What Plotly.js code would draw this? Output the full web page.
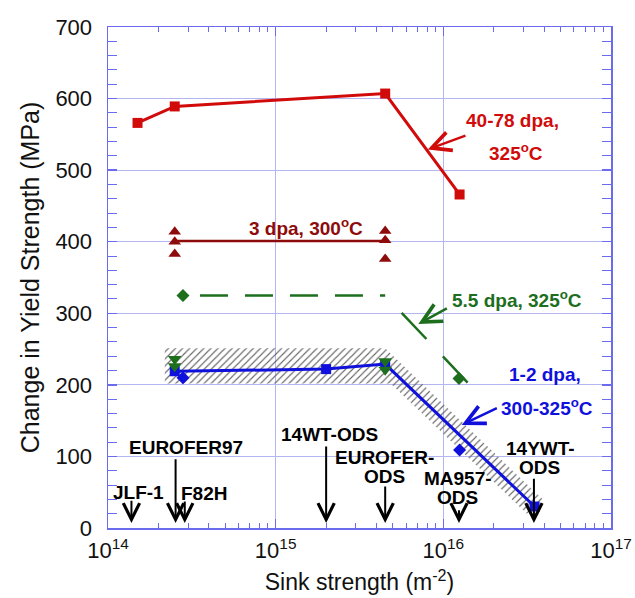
<!DOCTYPE html>
<html><head><meta charset="utf-8">
<script src="https://cdn.plot.ly/plotly-3.0.1.min.js"></script>
<style>html,body{margin:0;padding:0;background:#fff}#chart{width:635px;height:598px}</style>
</head><body><div id="chart"></div>
<script>
// ---- data ----
const redX = [1.5e14, 2.5e14, 4.5e15, 1.25e16];
const redY = [566, 589, 607, 466];
const darkRedX = [2.5e14, 2.5e14, 2.5e14, 4.5e15, 4.5e15, 4.5e15];
const darkRedY = [414, 400, 383, 415, 402, 376];
const darkRedLineX = [2.5e14, 4.5e15];
const darkRedLineY = [401, 401];
const greenFlatX = [2.8e14, 4.5e15];
const greenFlatY = [325, 325];
const greenSlopeX = [4.5e15, 1.41e16];
const greenSlopeY = [325, 202];
const greenDiamondX = [2.8e14, 1.24e16];
const greenDiamondY = [325, 209];
const greenTriX = [2.5e14, 2.5e14, 4.5e15, 4.5e15];
const greenTriY = [236, 226, 233, 221];
const blueX = [2.5e14, 2.0e15, 4.5e15, 3.5e16];
const blueY = [219, 222, 229, 30];
const blueDiamondX = [2.8e14, 1.25e16];
const blueDiamondY = [210, 109];
const bandX = [2.18e14, 4.5e15, 3.95e16, 3.15e16, 4.85e15, 2.18e14];
const bandY = [251, 251, 39, 20, 202, 202];
const materials = ['JLF-1', 'EUROFER97', 'F82H', '14WT-ODS', 'EUROFER-ODS', 'MA957-ODS', '14YWT-ODS'];
const materialSink = [1.38e14, 2.53e14, 2.87e14, 2.0e15, 4.5e15, 1.24e16, 3.47e16];
const xTickVals = [1e14, 1e15, 1e16, 1e17];
const xTickText = ['10<sup>14</sup>', '10<sup>15</sup>', '10<sup>16</sup>', '10<sup>17</sup>'];
const xRangeDecades = [14, 17];
const yRange = [0, 700];

// ---- styling / layout ----
const RED = '#d10a0a', DRED = '#8e0b0b', GREEN = '#1d6e1d', BLUE = '#1010dd';
const AXC = '#6b6bf0', GRID = '#b4b6f2';
const FONT = 'Arial, "Liberation Sans", Helvetica, sans-serif';
const L = v => Math.log10(v);

const traces = [
  {x: bandX, y: bandY, type: 'scatter', mode: 'lines', fill: 'toself',
   fillcolor: 'rgba(255,255,255,0)', line: {width: 0, color: 'rgba(0,0,0,0)'},
   fillpattern: {shape: '/', size: 5, solidity: 0.22, fgcolor: '#666666', bgcolor: 'rgba(255,255,255,0)'},
   hoverinfo: 'skip'},
  {x: greenFlatX, y: greenFlatY, type: 'scatter', mode: 'lines',
   line: {color: GREEN, width: 2.5, dash: '0px,17px,28px,0px'}},
  {x: greenSlopeX, y: greenSlopeY, type: 'scatter', mode: 'lines',
   line: {color: GREEN, width: 2.5, dash: '0px,24px,36px,0px'}},
  {x: darkRedLineX, y: darkRedLineY, type: 'scatter', mode: 'lines',
   line: {color: DRED, width: 2.5}},
  {x: redX, y: redY, type: 'scatter', mode: 'lines+markers',
   line: {color: RED, width: 3}, marker: {symbol: 'square', size: 10, color: RED}},
  {x: blueX, y: blueY, type: 'scatter', mode: 'lines+markers',
   line: {color: BLUE, width: 3}, marker: {symbol: 'square', size: 10, color: BLUE}},
  {x: blueDiamondX, y: blueDiamondY, type: 'scatter', mode: 'markers',
   marker: {symbol: 'diamond', size: 10, color: BLUE}},
  {x: greenTriX, y: greenTriY, type: 'scatter', mode: 'markers',
   marker: {symbol: 'triangle-down', size: 12, color: GREEN}},
  {x: greenDiamondX, y: greenDiamondY, type: 'scatter', mode: 'markers',
   marker: {symbol: 'diamond', size: 10, color: GREEN}},
  {x: darkRedX, y: darkRedY, type: 'scatter', mode: 'markers',
   marker: {symbol: 'triangle-up', size: 11, color: DRED}},
  // invisible trace so the minor-tick overlay axis gets drawn
  {x: [xTickVals[0]], y: [yRange[0]], xaxis: 'x2', yaxis: 'y', type: 'scatter', mode: 'markers',
   marker: {opacity: 0}, hoverinfo: 'skip'}
];

const ann = [];
function label(text, lx, y, color) {
  ann.push({x: lx, y: y, xref: 'x', yref: 'y', text: text, showarrow: false,
    font: {family: FONT, size: 19, color: color, weight: 'bold'}, xanchor: 'center', yanchor: 'middle'});
}
function arrow(lx, y, lax, ay, color, w, s) {
  ann.push({x: lx, y: y, ax: lax, ay: ay, xref: 'x', yref: 'y', axref: 'x', ayref: 'y',
    text: '', showarrow: true, arrowhead: 5, arrowsize: s, arrowwidth: w, arrowcolor: color, standoff: 0});
}
// series labels
label('40-78 dpa,', 16.41, 570, RED);
label('325<sup>o</sup>C', 16.434, 526, RED);
arrow(15.907, 529, 16.141, 549, RED, 2.5, 1.5);
label('3 dpa, 300<sup>o</sup>C', 15.178, 421, DRED);
label('5.5 dpa, 325<sup>o</sup>C', 16.442, 319.5, GREEN);
arrow(15.851, 285, 16.03, 308, GREEN, 2.5, 1.5);
label('1-2 dpa,', 16.607, 214, BLUE);
label('300-325<sup>o</sup>C', 16.617, 169.5, BLUE);
arrow(16.11, 144, 16.328, 168.6, BLUE, 2.5, 1.5);
// material labels and arrows
const matLabelPos = [
  [[14.183, 49.3]], [[14.464, 111.8]], [[14.571, 48.9]], [[15.324, 130]],
  [[15.651, 98], [15.652, 71.5]], [[16.085, 68.5], [16.085, 42.5]], [[16.577, 111], [16.576, 84.5]]
];
const matTail = [40, 98, 39, 116, 60, 27, 71];
materials.forEach((m, i) => {
  const parts = m.endsWith('-ODS') && matLabelPos[i].length === 2 ? [m.slice(0, -3), 'ODS'] : [m];
  parts.forEach((p, j) => label(p, matLabelPos[i][j][0], matLabelPos[i][j][1], '#000'));
  arrow(L(materialSink[i]), 7, L(materialSink[i]), matTail[i], '#000', 2, 1.6);
});

const layout = {
  width: 635, height: 598,
  margin: {l: 108, r: 24, t: 27, b: 70},
  paper_bgcolor: '#fff', plot_bgcolor: '#fff',
  showlegend: false,
  font: {family: FONT, color: '#111'},
  xaxis: {
    type: 'log', range: xRangeDecades, tickmode: 'array', tickvals: xTickVals, ticktext: xTickText,
    ticks: 'inside', ticklen: 9, tickwidth: 1.5, tickcolor: AXC,
    showline: true, linecolor: AXC, linewidth: 1.5, mirror: 'allticks',
    showgrid: true, gridcolor: GRID, gridwidth: 1, zeroline: false,
    tickfont: {size: 22, color: '#111'}, ticklabelstandoff: 2,
    title: {text: 'Sink strength (m<sup>-2</sup>)', font: {size: 23, color: '#111'}, standoff: 12}
  },
  // overlay axis used only for the minor log ticks (2..9 in each decade)
  xaxis2: {
    type: 'log', range: xRangeDecades, overlaying: 'x', anchor: 'y', side: 'bottom',
    dtick: 'D1', ticks: 'inside', ticklen: 5, tickwidth: 1, tickcolor: AXC,
    showticklabels: false, showgrid: false, showline: false, zeroline: false, mirror: 'ticks'
  },
  yaxis: {
    range: yRange, dtick: 100, tick0: 0,
    ticks: 'inside', ticklen: 9, tickwidth: 1.5, tickcolor: AXC,
    minor: {dtick: 20, ticks: 'inside', ticklen: 5, tickwidth: 1, tickcolor: AXC, showgrid: false},
    showline: true, linecolor: AXC, linewidth: 1.5, mirror: 'allticks',
    showgrid: true, gridcolor: GRID, gridwidth: 1, zeroline: false,
    tickfont: {size: 22, color: '#111'}, ticklabelstandoff: 10,
    title: {text: 'Change in Yield Strength (MPa)', font: {size: 25, color: '#111'}, standoff: 8}
  },
  annotations: ann
};
Plotly.newPlot('chart', traces, layout, {staticPlot: true, displayModeBar: false});
</script></body></html>
